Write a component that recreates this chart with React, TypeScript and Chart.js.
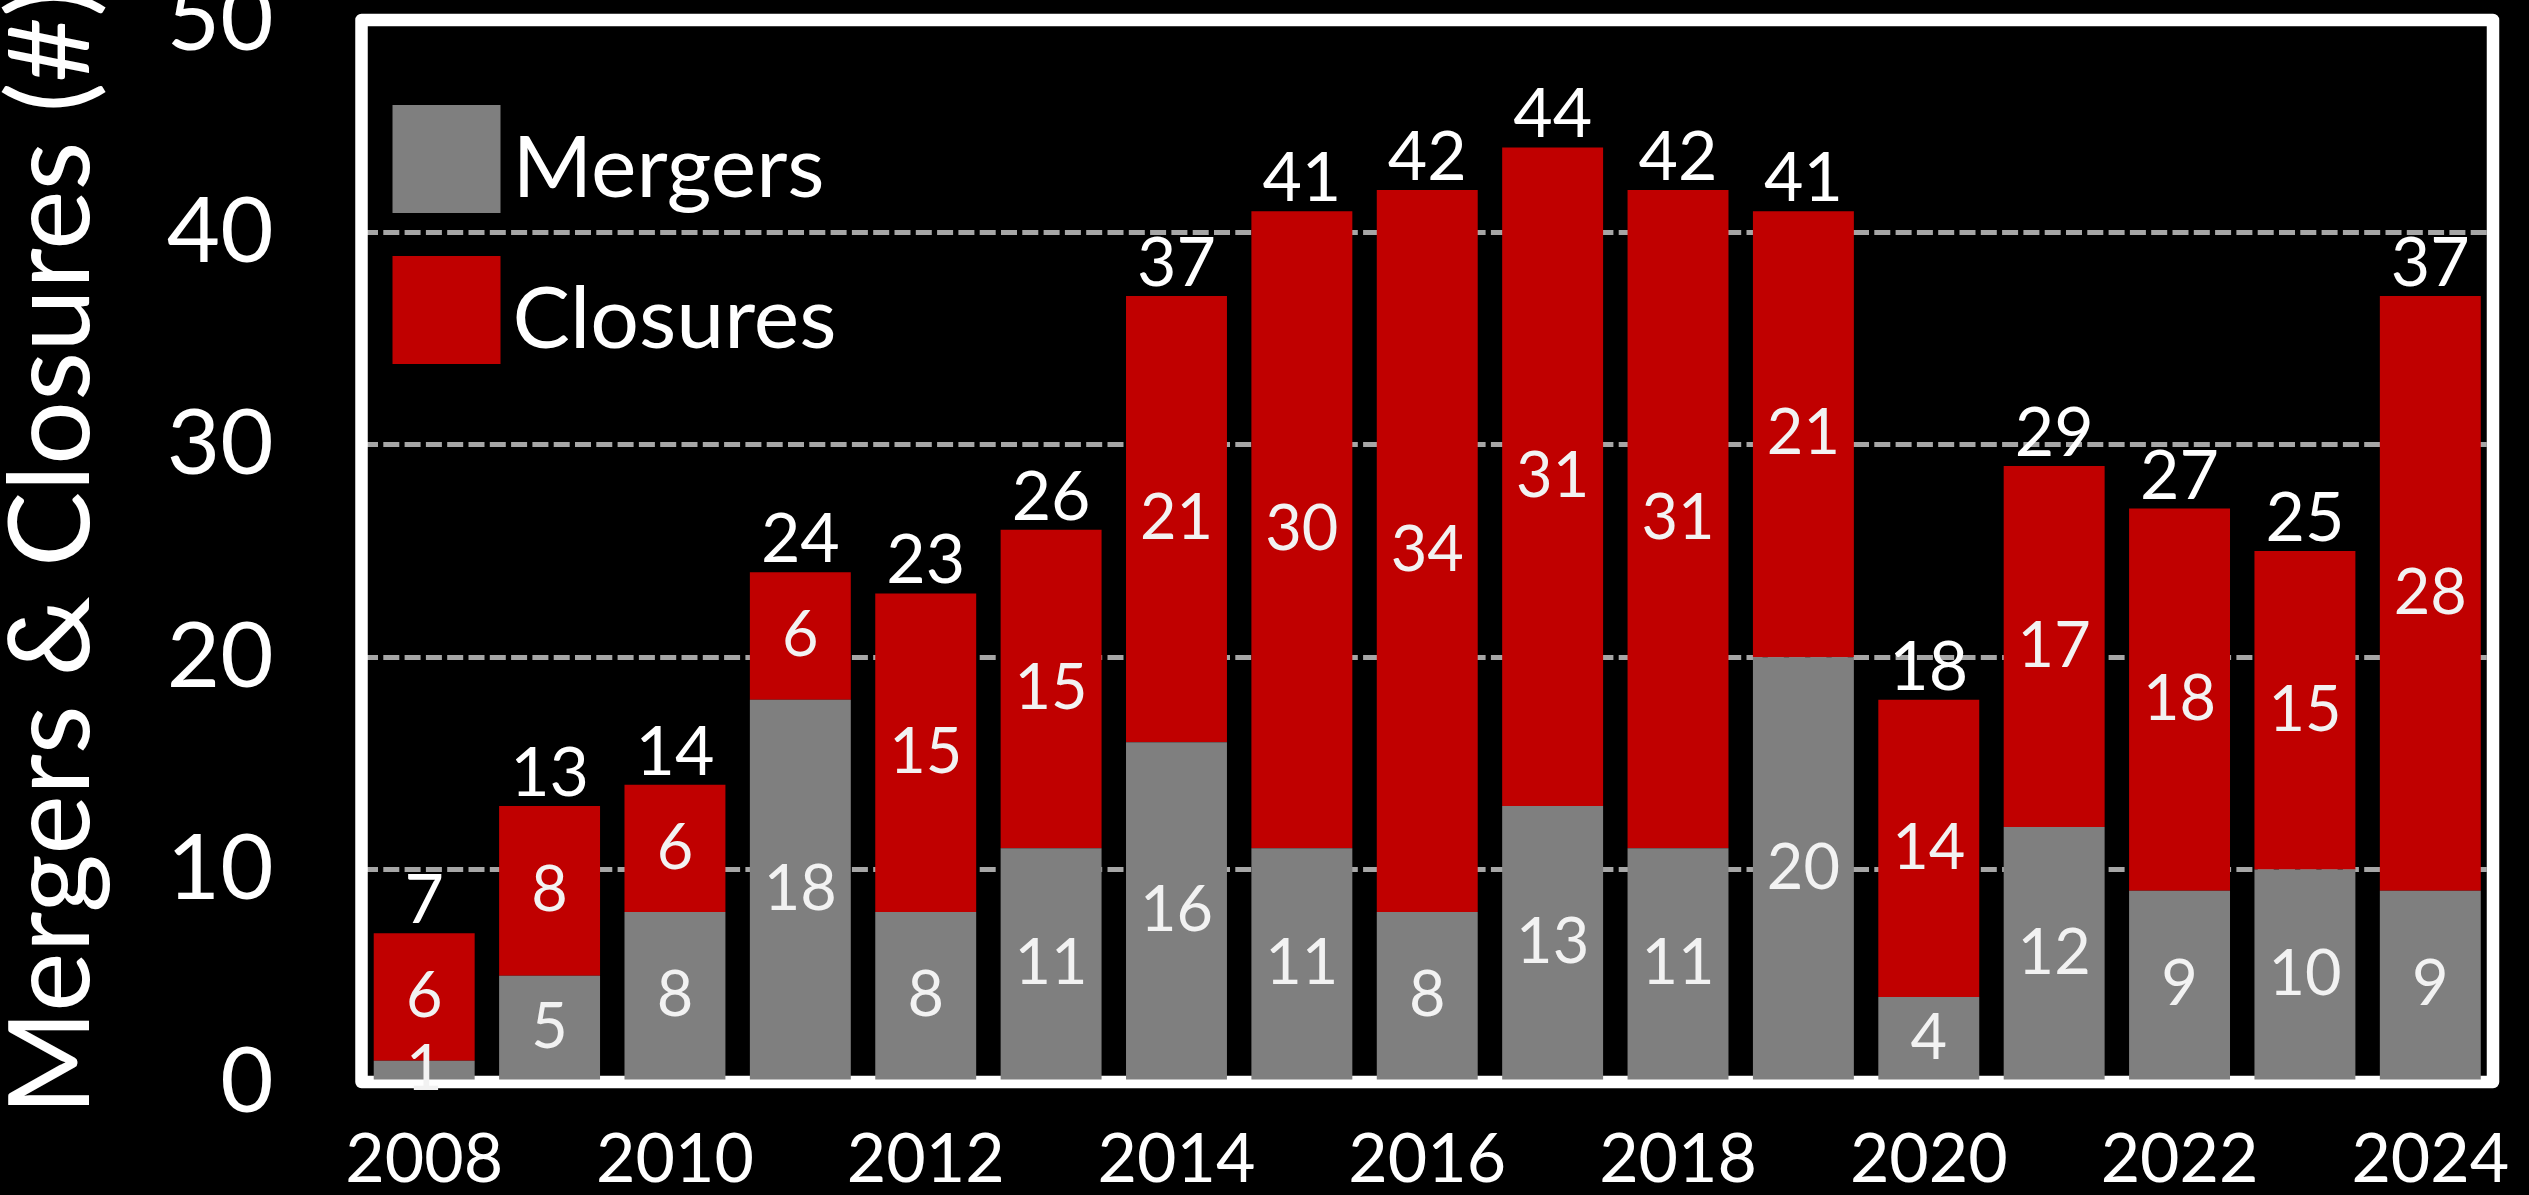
import React, { useEffect, useRef } from 'react';
import { Chart, registerables } from 'chart.js';

Chart.register(...registerables);

const years = ['2008', '2009', '2010', '2011', '2012', '2013', '2014', '2015', '2016', '2017', '2018', '2019', '2020', '2021', '2022', '2023', '2024'];
const mergers = [1, 5, 8, 18, 8, 11, 16, 11, 8, 13, 11, 20, 4, 12, 9, 10, 9];
const closures = [6, 8, 6, 6, 15, 15, 21, 30, 34, 31, 31, 21, 14, 17, 18, 15, 28];
const seriesNames = ['Mergers', 'Closures'];
const seriesColors = ['#7f7f7f', '#c00000'];
const yAxisTitle = 'Mergers & Closures (#)';
const yMin = 0;
const yMax = 50;
const yStep = 10;

const FONT = 'Lato, "Open Sans", sans-serif';

const framePlugin = {
  id: 'frame',
  beforeDatasetsDraw(chart: any) {
    const { ctx, chartArea } = chart;
    const { left, top, right, bottom } = chartArea;
    ctx.save();
    ctx.strokeStyle = '#ffffff';
    ctx.lineWidth = 12.5;
    ctx.lineJoin = 'round';
    ctx.strokeRect(left, top, right - left, bottom - top);
    ctx.restore();
  },
};

const valueLabelPlugin = {
  id: 'valueLabels',
  afterDatasetsDraw(chart: any) {
    const { ctx } = chart;
    ctx.save();
    ctx.textAlign = 'center';
    const n = chart.data.labels.length;
    chart.data.datasets.forEach((ds: any, di: number) => {
      const meta = chart.getDatasetMeta(di);
      ctx.font = `63px ${FONT}`;
      ctx.fillStyle = '#f2f2f2';
      ctx.textBaseline = 'middle';
      for (let i = 0; i < n; i++) {
        const el = meta.data[i];
        const p = el.getProps(['x', 'y', 'base'], true);
        ctx.fillText(String(ds.data[i]), p.x, (p.y + p.base) / 2);
      }
    });
    const topMeta = chart.getDatasetMeta(chart.data.datasets.length - 1);
    ctx.font = `68px ${FONT}`;
    ctx.fillStyle = '#ffffff';
    ctx.textBaseline = 'alphabetic';
    for (let i = 0; i < n; i++) {
      let total = 0;
      chart.data.datasets.forEach((ds: any) => { total += ds.data[i]; });
      const p = topMeta.data[i].getProps(['x', 'y'], true);
      ctx.fillText(String(total), p.x, p.y - 10);
    }
    ctx.restore();
  },
};

const insideLegendPlugin = {
  id: 'insideLegend',
  afterDraw(chart: any) {
    const { ctx, chartArea } = chart;
    ctx.save();
    ctx.font = `86px ${FONT}`;
    ctx.textAlign = 'left';
    ctx.textBaseline = 'alphabetic';
    chart.data.datasets.forEach((ds: any, i: number) => {
      const bx = chartArea.left + 31;
      const by = chartArea.top + 85 + i * 151;
      ctx.fillStyle = ds.backgroundColor;
      ctx.fillRect(bx, by, 108, 108);
      ctx.fillStyle = '#ffffff';
      ctx.fillText(ds.label, bx + 108 + 12, by + 92);
    });
    ctx.restore();
  },
};

function zeroPad(scale: any) {
  scale.paddingTop = 0;
  scale.paddingBottom = 0;
  scale.paddingLeft = 0;
  scale.paddingRight = 0;
}

export default function App() {
  const canvasRef = useRef<HTMLCanvasElement | null>(null);

  useEffect(() => {
    document.body.style.margin = '0';
    document.body.style.background = '#000000';
    const canvas = canvasRef.current;
    if (!canvas) return;
    const chart = new Chart(canvas, {
      type: 'bar',
      data: {
        labels: years,
        datasets: [
          {
            label: seriesNames[0],
            data: mergers,
            backgroundColor: seriesColors[0],
            borderWidth: 0,
            barPercentage: 0.805,
            categoryPercentage: 1,
          },
          {
            label: seriesNames[1],
            data: closures,
            backgroundColor: seriesColors[1],
            borderWidth: 0,
            barPercentage: 0.805,
            categoryPercentage: 1,
          },
        ],
      },
      options: {
        animation: false,
        responsive: true,
        maintainAspectRatio: false,
        devicePixelRatio: 1,
        layout: { padding: { top: 20, right: 36, left: 0, bottom: 0 } },
        plugins: {
          legend: { display: false },
          tooltip: { enabled: false },
          title: { display: false },
        },
        scales: {
          x: {
            stacked: true,
            grid: { display: false, drawTicks: false },
            border: { display: false },
            ticks: {
              color: '#ffffff',
              font: { family: FONT, size: 68 },
              padding: 37,
              autoSkip: false,
              maxRotation: 0,
              minRotation: 0,
              callback: (_v: any, idx: number) => (idx % 2 === 0 ? years[idx] : ''),
            },
            afterFit: (scale: any) => {
              scale.height = 113;
              zeroPad(scale);
            },
          },
          y: {
            stacked: true,
            min: yMin,
            max: yMax,
            grid: {
              color: '#a6a6a6',
              lineWidth: 5,
              drawTicks: false,
            },
            border: { display: false, dash: [16, 5.3] },
            ticks: {
              stepSize: yStep,
              color: '#ffffff',
              font: { family: FONT, size: 92 },
              padding: 88,
            },
            title: {
              display: true,
              text: yAxisTitle,
              color: '#ffffff',
              font: { family: FONT, size: 113, lineHeight: 0.93 },
              padding: { top: 0, bottom: 0 },
            },
            afterFit: (scale: any) => {
              scale.width = 361.5;
              zeroPad(scale);
            },
          },
        },
      },
      plugins: [framePlugin, valueLabelPlugin, insideLegendPlugin],
    });
    return () => chart.destroy();
  }, []);

  return (
    <div style={{ position: 'fixed', left: 0, top: 0, width: 2529, height: 1195, background: '#000000' }}>
      <canvas ref={canvasRef} />
    </div>
  );
}
